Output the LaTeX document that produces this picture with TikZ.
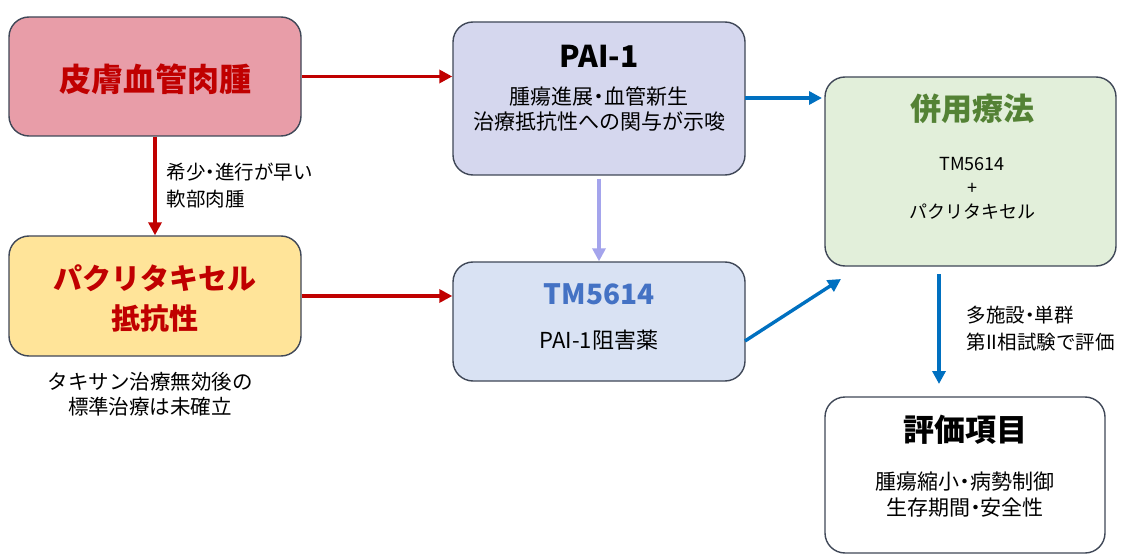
\documentclass[tikz,border=0pt]{standalone}
\usepackage{fontspec}
\setmainfont{Noto Sans CJK JP}
\usetikzlibrary{arrows.meta}
\definecolor{arrred}{HTML}{C00000}
\definecolor{arrblue}{HTML}{0070C0}
\definecolor{arrpurple}{HTML}{A4A4EC}
\definecolor{pinkfill}{HTML}{E89DA8}
\definecolor{yellowfill}{HTML}{FFE499}
\definecolor{lavfill}{HTML}{D5D7EE}
\definecolor{bluefill}{HTML}{D9E2F3}
\definecolor{greenfill}{HTML}{E2EFDA}
\definecolor{bordercol}{HTML}{3F4757}
\definecolor{titlered}{HTML}{C00000}
\definecolor{titleblue}{HTML}{4472C4}
\definecolor{titlegreen}{HTML}{548235}
\newcommand{\ndot}{\makebox[0.5em][c]{・}}
\tikzset{
  box/.style={draw=bordercol, line width=1.4pt, rounded corners=20pt, inner sep=0pt},
  conn/.style={line width=3.4pt, -{Triangle[length=13pt,width=13pt]}},
  lbl/.style={inner sep=0pt, align=left, anchor=west, text=black, font=\fontsize{19.5}{27}\selectfont},
  txt/.style={inner sep=0pt, align=center}
}
\begin{document}
\begin{tikzpicture}[x=1pt,y=-1pt]
\useasboundingbox (0,0) rectangle (1127,556);
\fill[white] (0,0) rectangle (1127,556);
% boxes
\node[box, fill=pinkfill, minimum width=292pt, minimum height=119pt] (hh) at (155,76.5) {};
\node[box, fill=yellowfill, minimum width=292pt, minimum height=120pt] (pr) at (155,296) {};
\node[box, fill=lavfill, minimum width=292pt, minimum height=153pt] (pai) at (599,98.5) {};
\node[box, fill=bluefill, minimum width=292pt, minimum height=119pt] (tm) at (599,321.5) {};
\node[box, fill=greenfill, minimum width=291pt, minimum height=189pt] (co) at (970.5,171.5) {};
\node[box, fill=white, minimum width=280pt, minimum height=156pt] (ev) at (965,475) {};
% texts
\node[txt, text=titlered, font=\fontsize{32}{36}\selectfont\bfseries] (hht) at (155,79) {皮膚血管肉腫};
\node[txt, text=titlered, font=\fontsize{29}{40}\selectfont\bfseries] (prt) at (155,298) {パクリタキセル\\抵抗性};
\node[txt, font=\fontsize{30}{32}\selectfont\bfseries] (pait) at (599,56) {PAI-1};
\node[txt, font=\fontsize{21}{25}\selectfont] (paib) at (599,109) {腫瘍進展\ndot 血管新生\\治療抵抗性への関与が示唆};
\node[txt, text=titleblue, font=\fontsize{28}{30}\selectfont\bfseries] (tmt) at (599,294) {TM5614};
\node[txt, font=\fontsize{22}{24}\selectfont] (tmb) at (599,340) {PAI-1阻害薬};
\node[txt, text=titlegreen, font=\fontsize{31}{34}\selectfont\bfseries] (cot) at (972,109) {併用療法};
\node[txt, font=\fontsize{18}{24}\selectfont] (cob) at (972,188) {TM5614\\+\\パクリタキセル};
\node[txt, font=\fontsize{31}{34}\selectfont\bfseries] (evt) at (965,430) {評価項目};
\node[txt, font=\fontsize{21}{26}\selectfont] (evb) at (965,495) {腫瘍縮小\ndot 病勢制御\\生存期間\ndot 安全性};
\node[txt, font=\fontsize{20.5}{25}\selectfont] (prn) at (150,394) {タキサン治療無効後の\\標準治療は未確立};
% connectors
\draw[conn, arrred] (hh.east) -- (pai.west |- hh.east);
\draw[conn, arrred] (pr.east) -- (tm.west |- pr.east);
\draw[conn, arrred] (hh.south) -- node[lbl, right=10pt] {希少\ndot 進行が早い\\軟部肉腫} (pr.north);
\draw[conn, arrpurple] ([yshift=-3pt]pai.south) -- (tm.north);
\coordinate (a1) at (745,98);
\coordinate (a2) at (822,98);
\draw[conn, arrblue] (a1) -- (a2);
\coordinate (b1) at (745,341);
\coordinate (b2) at (841,279);
\draw[conn, arrblue] (b1) -- (b2);
\coordinate (c1) at (939,274);
\coordinate (c2) at (939,384);
\draw[conn, arrblue] (c1) -- node[lbl, right=26pt] {多施設\ndot 単群\\第II相試験で評価} (c2);
\end{tikzpicture}
\end{document}
